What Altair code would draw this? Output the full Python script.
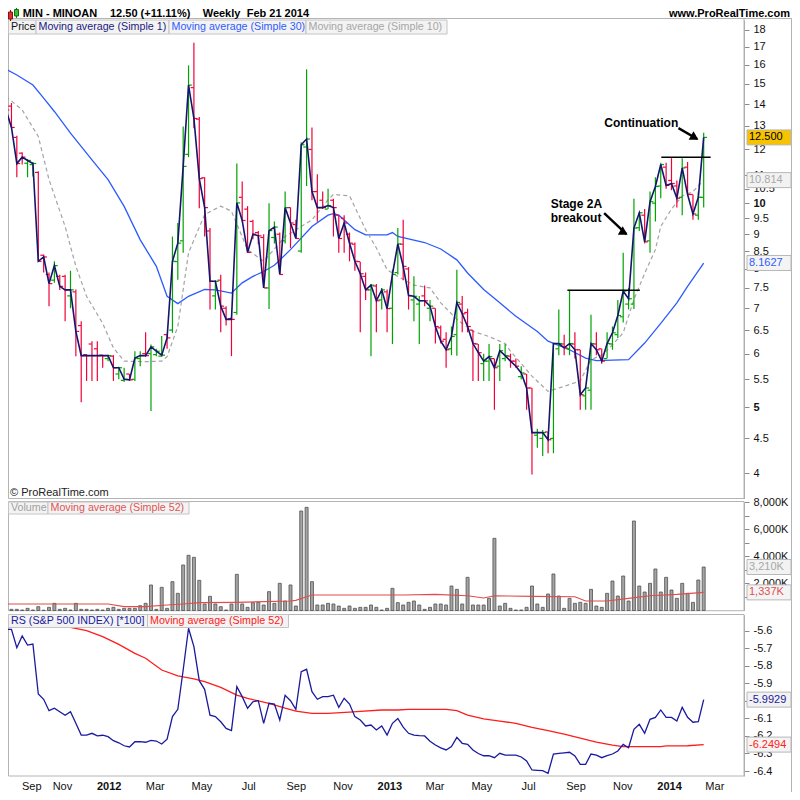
import altair as alt
import pandas as pd

# ---------------- data ----------------
FIRST_BAR = "2011-08-26"          # first weekly bar (Friday)
N_BARS = 131                      # last bar = 2014-02-21

open_ = [14.2, 13.9, 12.5, 11.85, 11.45, 11.4, 11.1, 8.38, 7.85, 7.7,
         7.8, 7.8, 7.3, 7.4, 6.6, 5.98, 6.2, 6.1, 5.97, 5.9,
         5.95, 5.6, 5.48, 5.6, 5.5, 5.9, 6.0, 6.0, 5.98, 5.95,
         6.4, 6.5, 8.2, 8.8, 11.8, 14.8, 13.3, 10.9, 9.1, 7.3,
         7.7, 7.0, 6.76, 6.9, 10.2, 9.8, 9.4, 9.05, 8.9, 7.5,
         8.9, 9.0, 8.8, 9.85, 9.3, 8.5, 12.1, 12.0, 10.4, 10.1,
         9.8, 10.1, 9.6, 9.5, 9.0, 8.7, 8.2, 7.8, 7.45, 7.55,
         7.2, 7.4, 7.0, 7.9, 8.7, 8.0, 7.2, 7.1, 7.3, 7.0,
         7.0, 6.55, 6.3, 6.1, 6.4, 7.1, 6.9, 6.5, 6.2, 5.8,
         5.85, 5.9, 5.75, 5.9, 5.95, 5.85, 5.55, 5.6, 5.34, 4.55,
         4.5, 4.6, 4.5, 6.1, 6.2, 6.1, 6.2, 6.08, 5.2, 5.3,
         6.2, 6.1, 5.9, 6.2, 6.4, 6.8, 7.1, 7.1, 9.2, 9.6,
         8.8, 10.0, 10.6, 11.3, 10.8, 10.6, 10.2, 11.3, 10.3, 9.6,
         10.2]
high = [14.3, 14.05, 12.57, 11.89, 11.62, 11.5, 11.14, 8.4, 7.9, 8.21,
        7.84, 7.84, 7.95, 7.46, 6.70, 5.99, 6.26, 6.26, 5.98, 5.98,
        5.97, 5.74, 5.72, 5.6, 6.05, 6.05, 6.45, 6.19, 6.1, 6.37,
        6.42, 8.93, 9.35, 12.97, 15.96, 17.24, 13.4, 10.92, 9.19, 7.7,
        7.84, 7.05, 6.8, 11.44, 10.76, 9.90, 9.45, 9.1, 9.0, 10.0,
        9.4, 9.05, 10.4, 9.86, 9.45, 12.3, 15.75, 12.93, 11.03, 10.4,
        10.5, 10.15, 9.6, 9.6, 9.05, 8.75, 8.2, 7.9, 7.6, 7.6,
        7.5, 7.46, 7.98, 9.19, 9.45, 8.05, 7.8, 7.3, 7.56, 7.2,
        7.0, 6.6, 6.45, 6.58, 7.98, 7.3, 6.99, 6.5, 6.2, 6.0,
        6.2, 5.9, 6.2, 6.2, 6.0, 5.9, 5.75, 5.6, 5.34, 4.65,
        4.63, 4.6, 6.21, 6.97, 6.4, 7.45, 6.45, 6.08, 5.34, 6.85,
        6.45, 6.1, 6.45, 6.58, 7.2, 8.45, 7.5, 10.15, 9.7, 9.8,
        10.4, 10.92, 11.47, 11.47, 11.65, 10.8, 11.65, 11.5, 10.3, 10.4,
        12.7]
low = [13.4, 12.9, 10.92, 11.4, 10.92, 10.95, 8.21, 7.9, 7.05, 7.63,
       7.45, 6.70, 7.0, 5.95, 5.09, 5.47, 5.47, 5.47, 5.72, 5.85,
       5.47, 5.5, 5.45, 5.47, 5.47, 5.75, 5.94, 4.94, 5.95, 5.94,
       6.1, 6.44, 7.71, 8.45, 11.69, 12.9, 9.83, 8.93, 6.97, 6.97,
       6.45, 6.6, 5.95, 6.85, 9.4, 8.45, 8.85, 8.7, 7.5, 6.98,
       8.72, 7.85, 8.72, 8.59, 8.87, 8.45, 10.6, 10.1, 9.39, 9.8,
       9.8, 8.93, 8.45, 8.45, 8.21, 7.95, 6.45, 7.2, 5.95, 6.45,
       6.97, 6.45, 6.2, 7.85, 7.7, 6.97, 6.7, 6.2, 7.05, 6.7,
       6.21, 6.21, 5.72, 5.97, 5.96, 6.45, 6.45, 5.47, 5.47, 5.47,
       5.47, 4.96, 5.47, 5.85, 5.72, 5.72, 5.5, 4.96, 3.98, 4.36,
       4.24, 4.28, 4.28, 5.97, 5.97, 5.97, 5.9, 4.96, 4.96, 4.96,
       5.97, 5.8, 5.9, 6.08, 6.33, 6.67, 6.97, 6.98, 9.1, 8.72,
       8.45, 9.4, 10.17, 10.5, 10.45, 9.85, 9.6, 10.3, 9.45, 9.45,
       9.85]
close = [13.72, 12.93, 11.44, 11.69, 11.56, 11.44, 8.21, 8.33, 7.61, 8.09,
         7.54, 7.45, 7.45, 6.47, 5.96, 5.96, 5.96, 5.96, 5.96, 5.96,
         5.72, 5.72, 5.50, 5.49, 5.91, 5.96, 5.96, 6.14, 6.05, 5.97,
         6.33, 8.21, 8.73, 11.33, 14.93, 13.33, 10.87, 9.85, 7.67, 7.67,
         7.05, 6.74, 6.74, 10.01, 9.43, 8.46, 9.00, 8.95, 7.50, 9.11,
         9.22, 7.85, 9.85, 9.35, 8.87, 12.19, 12.43, 10.40, 9.85, 9.85,
         9.92, 9.85, 8.87, 9.35, 8.73, 8.21, 7.87, 7.45, 7.57, 7.18,
         7.45, 6.99, 7.85, 8.71, 8.07, 7.31, 7.29, 7.18, 7.18, 7.05,
         6.58, 6.26, 6.08, 6.36, 7.14, 6.87, 6.58, 6.21, 6.02, 5.85,
         5.94, 5.72, 6.06, 5.96, 5.85, 5.75, 5.62, 5.34, 4.59, 4.59,
         4.59, 4.48, 6.21, 6.21, 6.12, 6.21, 6.08, 5.22, 5.34, 6.21,
         6.08, 5.85, 6.21, 6.44, 6.83, 7.42, 7.23, 9.19, 9.68, 8.77,
         10.05, 10.58, 11.40, 10.62, 10.69, 10.17, 11.27, 10.30, 9.64, 10.20,
         12.50]
volume_k = [100, 86, 86, 37, 160, 37, 283, 20, 234, 529,
            86, 160, 37, 529, 86, 86, 37, 86, 37, 160,
            234, 86, 160, 160, 160, 357, 529, 1882, 86, 1710,
            160, 2128, 1267, 3358, 4072, 3924, 2226, 480, 1046, 480,
            283, 37, 480, 2669, 480, 234, 578, 603, 406, 1390,
            529, 2005, 701, 1882, 332, 7343, 7614, 2128, 406, 406,
            529, 480, 332, 160, 332, 160, 234, 234, 406, 234,
            37, 160, 1636, 578, 406, 603, 701, 406, 86, 234,
            480, 480, 406, 1808, 1562, 480, 2448, 406, 406, 406,
            898, 5326, 332, 529, 160, 37, 37, 234, 1808, 480,
            234, 1218, 2694, 1070, 160, 898, 529, 603, 529, 1562,
            332, 234, 1267, 2177, 1070, 2546, 701, 6605, 1808, 1365,
            2005, 3063, 1365, 2448, 1513, 898, 2005, 1267, 603, 2251,
            3210]
rs = [-5.592, -5.592, -5.697, -5.630, -5.682, -5.676, -5.961, -5.991, -6.056, -6.042,
      -6.062, -6.082, -6.062, -6.128, -6.195, -6.195, -6.185, -6.200, -6.196, -6.204,
      -6.227, -6.239, -6.256, -6.263, -6.233, -6.233, -6.236, -6.225, -6.229, -6.246,
      -6.219, -6.090, -6.048, -5.824, -5.586, -5.691, -5.885, -5.934, -6.082, -6.090,
      -6.119, -6.157, -6.170, -5.919, -5.976, -6.042, -6.005, -5.999, -6.128, -6.014,
      -6.018, -6.109, -5.968, -5.999, -6.048, -5.834, -5.820, -5.948, -5.991, -5.976,
      -5.976, -5.968, -6.037, -5.985, -6.018, -6.090, -6.109, -6.143, -6.138, -6.166,
      -6.143, -6.195, -6.128, -6.100, -6.150, -6.185, -6.195, -6.198, -6.200, -6.230,
      -6.252, -6.268, -6.280, -6.261, -6.208, -6.242, -6.248, -6.280, -6.300, -6.313,
      -6.313, -6.324, -6.299, -6.309, -6.309, -6.309, -6.320, -6.343, -6.394, -6.396,
      -6.398, -6.413, -6.303, -6.299, -6.296, -6.293, -6.314, -6.362, -6.362, -6.303,
      -6.309, -6.324, -6.312, -6.303, -6.286, -6.248, -6.267, -6.162, -6.134, -6.185,
      -6.105, -6.094, -6.052, -6.094, -6.094, -6.115, -6.037, -6.094, -6.122, -6.119,
      -5.993]

# moving averages: (bar index, value)
ma30_week = [0, 2, 5, 7, 9, 12, 16, 19, 22, 25, 28, 30, 32, 34, 37, 39, 42, 44, 46, 48,
             50, 53, 57, 60, 61, 62, 65, 67, 71, 72, 73, 78, 81, 84, 86, 89, 92, 95, 99, 101,
             105, 108, 110, 116, 119, 122, 125, 127, 130]
ma30_val = [15.75, 15.45, 14.93, 14.28, 13.65, 12.68, 11.58, 10.83, 9.89, 8.83,
            8.07, 7.29, 7.11, 7.29, 7.46, 7.45, 7.37, 7.63, 7.80, 7.93,
            8.10, 8.54, 9.24, 9.60, 9.65, 9.60, 9.14, 8.98, 8.98, 9.05,
            8.93, 8.75, 8.56, 8.25, 7.89, 7.46, 7.13, 6.81, 6.47, 6.26,
            6.08, 5.91, 5.86, 5.88, 6.22, 6.65, 7.13, 7.54, 8.16]
ma10_week = [0, 3, 6, 8, 11, 13, 15, 18, 20, 22, 26, 29, 30, 32, 34, 37, 40, 42, 45, 48,
             52, 57, 60, 61, 64, 67, 69, 71, 73, 76, 79, 81, 84, 87, 90, 93, 94, 98, 101, 104,
             107, 109, 111, 113, 115, 117, 119, 121, 122, 124, 126, 128, 130]
ma10_val = [14.36, 13.72, 12.54, 10.83, 9.24, 8.07, 7.29, 6.65, 6.12, 5.85,
            5.84, 5.85, 5.94, 6.58, 8.45, 9.62, 9.90, 9.73, 8.54, 8.21,
            8.93, 9.45, 10.12, 10.30, 10.25, 9.14, 8.59, 7.98, 7.80, 7.57,
            7.50, 7.13, 6.74, 6.47, 6.36, 6.21, 6.05, 5.56, 5.28, 5.37,
            5.47, 5.88, 5.97, 6.18, 6.44, 7.21, 7.88, 8.54, 9.24, 9.80,
            10.25, 10.40, 10.81]
vma_week = [0, 19, 22, 26, 30, 33, 36, 43, 53, 54, 56, 57, 74, 80, 86, 89, 91, 98, 106, 108,
            112, 116, 120, 125, 130]
vma_val = [480, 480, 283, 283, 406, 480, 578, 603, 701, 750, 1020, 1143, 1143, 1190, 1090,
           920, 1090, 1046, 1020, 701, 701, 898, 1090, 1190, 1337]
rsma_week = [0, 6, 12, 15, 18, 21, 24, 26, 29, 32, 35, 37, 40, 43, 45, 49, 52, 54, 57, 60,
             64, 66, 70, 73, 75, 82, 84, 86, 89, 92, 95, 98, 101, 104, 107, 110, 113, 115, 122, 123,
             127, 130]
rsma_val = [-5.53, -5.555, -5.581, -5.600, -5.634, -5.678, -5.729, -5.757, -5.824, -5.858,
            -5.875, -5.891, -5.923, -5.967, -5.986, -6.014, -6.042, -6.058, -6.071, -6.071,
            -6.064, -6.060, -6.052, -6.052, -6.048, -6.048, -6.056, -6.081, -6.103, -6.115,
            -6.128, -6.151, -6.170, -6.189, -6.213, -6.235, -6.252, -6.261, -6.261, -6.257,
            -6.256, -6.249]

# drawn annotations (bar index / price)
res_from = [104.6, 122.1]
res_to = [118.1, 131.3]
res_price = [7.44, 11.69]
arrow_from_week = [111.45, 125.3]
arrow_from_price = [9.67, 12.90]
arrow_to_week = [115.6, 128.8]
arrow_to_price = [9.00, 12.43]

price_ticks = [4, 4.5, 5, 5.5, 6, 6.5, 7, 7.5, 8, 8.5, 9, 9.5, 10, 10.5, 11, 12, 13, 14, 15, 16, 17, 18]
vol_ticks = [1000, 2000, 3000, 4000, 5000, 6000, 7000, 8000]
rs_ticks = [-6.4, -6.3, -6.2, -6.1, -6.0, -5.9, -5.8, -5.7, -5.6]
# where the month labels sit (the first one is pushed in from the left edge, as in the reference)
month_ticks = ["2011-09-22", "2011-11-01", "2012-03-01", "2012-05-01", "2012-07-01",
               "2012-09-01", "2012-11-01", "2013-03-01", "2013-05-01", "2013-07-01",
               "2013-09-01", "2013-11-01", "2014-03-01"]
year_ticks = ["2012-01-01", "2013-01-01", "2014-01-01"]

# ---------------- helpers ----------------
DAY = 86400000
WEEK = 7 * DAY
T0 = int(pd.Timestamp(FIRST_BAR, tz="UTC").value // 10**6)


def wk(i):
    return T0 + i * WEEK


def ms(s):
    return int(pd.Timestamp(s, tz="UTC").value // 10**6)


PX_PER_DAY = 5.44 / 7.0
D0 = int(T0 + (7.0 / PX_PER_DAY) * DAY)
D1 = int(D0 + (736.0 / PX_PER_DAY) * DAY)
XS = alt.Scale(type="utc", domain=[D0, D1])
FONT = "Liberation Sans"
UP, DOWN = "#00a400", "#f2003a"
LEG = 10.7

bars = pd.DataFrame({"t": [wk(i) for i in range(N_BARS)], "open": open_, "high": high,
                     "low": low, "close": close, "vol": volume_k, "rs": rs})
bars["dir"] = ["up" if c >= o else "down" for o, c in zip(open_, close)]


def series(weeks, vals):
    return pd.DataFrame({"t": [wk(w) for w in weeks], "v": vals})


ONE = alt.Data(values=[{"a": 1}])

PS = alt.Scale(type="log", domain=[3.67, 18.62], range=[490.5, 12], nice=False)
VS = alt.Scale(domain=[0, 8000], range=[602.5, 494.1], nice=False)
RSS = alt.Scale(domain=[-6.4284, -5.5088], range=[768, 606.7], nice=False, zero=False)
DIRS = alt.Scale(domain=["up", "down"], range=[UP, DOWN])
XN = alt.X("t:T", scale=XS, axis=None)

axis_common = dict(orient="right", tickSize=5, tickColor="#8a8a8a", domainColor="#a8a8a8",
                   labelFontSize=11, labelColor="#111111", labelPadding=4, grid=False,
                   labelOverlap=False, labelBound=False, title=None, labelFont=FONT)

price_axis = alt.Axis(values=price_ticks, labelExpr="'' + datum.value",
                      labelFontWeight={"condition": {"test": "datum.value == 10 || datum.value == 5",
                                                     "value": "bold"}, "value": "normal"},
                      **axis_common)
vol_axis = alt.Axis(values=vol_ticks,
                    labelExpr="datum.value % 2000 == 0 ? format(datum.value, ',') + 'K' : ''",
                    **axis_common)
rs_axis = alt.Axis(values=rs_ticks, labelExpr="'' + datum.value", **axis_common)


def rect(x1, x2, y1, y2, fill="#f3f3f3", stroke="#c4c4c4"):
    return alt.Chart(ONE).mark_rect(fill=fill, stroke=stroke, strokeWidth=1).encode(
        x=alt.value(x1), x2=alt.value(x2), y=alt.value(y1), y2=alt.value(y2))


def hline(x1, x2, y, color="#b4b4b4"):
    return alt.Chart(ONE).mark_rule(color=color, strokeWidth=1).encode(
        x=alt.value(x1), x2=alt.value(x2), y=alt.value(y))


def vline(x, y1, y2, color="#b4b4b4", width=1):
    return alt.Chart(ONE).mark_rule(color=color, strokeWidth=width).encode(
        x=alt.value(x), y=alt.value(y1), y2=alt.value(y2))


def label(x, y, text, color="#111111", size=11, weight="normal", align="left"):
    return alt.Chart(ONE).mark_text(text=text, color=color, fontSize=size, fontWeight=weight,
                                    align=align, baseline="middle", font=FONT).encode(
        x=alt.value(x), y=alt.value(y))


BOX = "M-1,-0.341L1,-0.341L1,0.341L-1,0.341Z"


def tag(value, text, scale, fill, color):
    d = pd.DataFrame({"v": [value], "txt": [text]})
    box = alt.Chart(d).mark_point(shape=BOX, size=1936, filled=True, fill=fill,
                                  stroke="#b8b8b8", strokeWidth=1, opacity=1).encode(
        x=alt.value(761), y=alt.Y("v:Q", scale=scale, axis=None))
    txt = alt.Chart(d).mark_text(align="left", baseline="middle", fontSize=11, color=color,
                                 font=FONT).encode(
        x=alt.value(741), y=alt.Y("v:Q", scale=scale, axis=None), text="txt:N")
    return [box, txt]


layers = []

# frames
layers += [rect(0.5, 736, 10.5, 490.5, fill="#ffffff", stroke="#b4b4b4"),
           rect(0.5, 736, 493.5, 602.7, fill="#ffffff", stroke="#b4b4b4"),
           rect(0.5, 736, 606.5, 768, fill="#ffffff", stroke="#b4b4b4"),
           hline(0, 784, 10.5), vline(783.5, 10.5, 784)]

# ---- price panel ----
layers.append(alt.Chart(series(ma30_week, ma30_val)).mark_line(color="#2b5bff", strokeWidth=1.3).encode(
    x=XN, y=alt.Y("v:Q", scale=PS, axis=price_axis)))
layers.append(alt.Chart(series(ma10_week, ma10_val)).mark_line(
    color="#a4a4a4", strokeWidth=1.2, strokeDash=[4, 3]).encode(
    x=XN, y=alt.Y("v:Q", scale=PS, axis=None)))
layers.append(alt.Chart(bars).mark_rule(strokeWidth=1.2).encode(
    x=XN, y=alt.Y("low:Q", scale=PS, axis=None), y2="high:Q",
    color=alt.Color("dir:N", scale=DIRS, legend=None)))
layers.append(alt.Chart(bars).mark_tick(orient="horizontal", size=3, thickness=1.2, xOffset=-1.8,
                                        opacity=1).encode(
    x=XN, y=alt.Y("open:Q", scale=PS, axis=None), color=alt.Color("dir:N", scale=DIRS, legend=None)))
layers.append(alt.Chart(bars).mark_tick(orient="horizontal", size=3, thickness=1.2, xOffset=1.8,
                                        opacity=1).encode(
    x=XN, y=alt.Y("close:Q", scale=PS, axis=None), color=alt.Color("dir:N", scale=DIRS, legend=None)))
layers.append(alt.Chart(bars).mark_line(color="#15156e", strokeWidth=1.6).encode(
    x=XN, y=alt.Y("close:Q", scale=PS, axis=None)))

res_df = pd.DataFrame({"t1": [wk(w) for w in res_from], "t2": [wk(w) for w in res_to], "p": res_price})
layers.append(alt.Chart(res_df).mark_rule(color="#000000", strokeWidth=1.5).encode(
    x=alt.X("t1:T", scale=XS, axis=None), x2="t2:T", y=alt.Y("p:Q", scale=PS, axis=None)))

arr_df = pd.DataFrame({"t1": [wk(w) for w in arrow_from_week], "p1": arrow_from_price,
                       "t2": [wk(w) for w in arrow_to_week], "p2": arrow_to_price})
layers.append(alt.Chart(arr_df).mark_rule(color="#000000", strokeWidth=2.4).encode(
    x=alt.X("t1:T", scale=XS, axis=None), x2="t2:T",
    y=alt.Y("p1:Q", scale=PS, axis=None), y2="p2:Q"))
layers.append(alt.Chart(arr_df).mark_point(shape="triangle-right", angle=30, size=95, filled=True,
                                           fill="#000000", strokeWidth=0, opacity=1,
                                           xOffset=-2.5, yOffset=-1.5).encode(
    x=alt.X("t2:T", scale=XS, axis=None), y=alt.Y("p2:Q", scale=PS, axis=None)))

layers += [label(542.7, 196, "Stage 2A", "#000000", 12, "bold"),
           label(542.7, 209.7, "breakout", "#000000", 12, "bold"),
           label(596.3, 115.3, "Continuation", "#000000", 12, "bold"),
           label(2, 485, "\u00a9 ProRealTime.com", "#222222", 11)]

# price legend
layers += [rect(0.5, 28, 12, 26), rect(28, 161, 12, 26), rect(161, 298, 12, 26),
           rect(298, 439, 12, 26),
           label(3, 19, "Price", "#111111", LEG),
           label(30.5, 19, "Moving average (Simple 1)", "#1a1a80", LEG),
           label(163.5, 19, "Moving average (Simple 30)", "#2f5cff", LEG),
           label(300.5, 19, "Moving average (Simple 10)", "#a6a6a6", LEG)]

layers += tag(12.5, "12.500", PS, "#f7c300", "#000000")
layers += tag(10.814, "10.814", PS, "#f2f2f2", "#a8a8a8")
layers += tag(8.1627, "8.1627", PS, "#f4f4f4", "#2f5cff")

# ---- volume panel ----
layers.append(alt.Chart(bars).mark_bar(size=3, fill="#a4a4a4", stroke="#505050", strokeWidth=0.8).encode(
    x=XN, y=alt.Y("vol:Q", scale=VS, axis=vol_axis)))
layers.append(alt.Chart(series(vma_week, vma_val)).mark_line(color="#e24c4c", strokeWidth=1.1).encode(
    x=XN, y=alt.Y("v:Q", scale=VS, axis=None)))
layers += [rect(0.5, 40, 494, 506), rect(40, 181, 494, 506),
           label(3, 500, "Volume", "#a0a0a0", LEG),
           label(42.5, 500, "Moving average (Simple 52)", "#e05555", LEG)]
layers += tag(3210, "3,210K", VS, "#f2f2f2", "#a8a8a8")
layers += tag(1337, "1,337K", VS, "#f4f4f4", "#e05050")

# ---- RS panel ----
layers.append(alt.Chart(series(rsma_week, rsma_val)).mark_line(color="#ff1c1c", strokeWidth=1.3).encode(
    x=XN, y=alt.Y("v:Q", scale=RSS, axis=None)))
layers.append(alt.Chart(bars).mark_line(color="#1a1a9e", strokeWidth=1.3).encode(
    x=XN, y=alt.Y("rs:Q", scale=RSS, axis=rs_axis)))
layers += [rect(0.5, 139.5, 606.5, 619.5), rect(139.5, 280.5, 606.5, 619.5),
           label(3, 613, "RS (S&P 500 INDEX) [*100]", "#1a1a9e", LEG),
           label(142, 613, "Moving average (Simple 52)", "#ff2020", LEG)]
layers += tag(-5.9929, "-5.9929", RSS, "#f2f2f2", "#1a1a9e")
layers += tag(-6.2494, "-6.2494", RSS, "#f4f4f4", "#ff2020")

# ---- time axis labels (months / bold years) ----
mdf = pd.DataFrame({"t": [ms(m) for m in month_ticks],
                    "lab": [pd.Timestamp(m).strftime("%b") for m in month_ticks]})
ydf = pd.DataFrame({"t": [ms(y) for y in year_ticks],
                    "lab": [pd.Timestamp(y).strftime("%Y") for y in year_ticks]})
layers.append(alt.Chart(mdf).mark_text(fontSize=11, color="#111111", baseline="middle", dx=5,
                                       font=FONT).encode(
    x=alt.X("t:T", scale=XS, axis=None), y=alt.value(779), text="lab:N"))
layers.append(alt.Chart(ydf).mark_text(fontSize=11, color="#111111", baseline="middle", dx=5,
                                       fontWeight="bold", font=FONT).encode(
    x=alt.X("t:T", scale=XS, axis=None), y=alt.value(779), text="lab:N"))

# ---- title bar ----
layers += [rect(0.5, 4.5, 4, 11, fill="#e23030", stroke="#8a1010"),
           vline(2.5, 2, 4, "#8a1010"), vline(2.5, 11, 13, "#8a1010"),
           rect(6.5, 10.5, 1.5, 8, fill="#33c033", stroke="#107010"),
           vline(8.5, 0, 1.5, "#107010"), vline(8.5, 8, 10, "#107010"),
           label(14.7, 5.5, "MIN - MINOAN", "#000000", 11, "bold"),
           label(102, 5.5, "12.50 (+11.11%)", "#000000", 11, "bold"),
           label(194.7, 5.5, "Weekly", "#000000", 11, "bold"),
           label(238.7, 5.5, "Feb 21 2014", "#000000", 11, "bold"),
           label(782, 5.5, "www.ProRealTime.com", "#000000", 11, "bold", "right")]

chart = alt.layer(*layers).resolve_scale(y="independent").properties(
    width=736, height=768,
    padding={"left": 0, "top": 0, "right": 48, "bottom": 16},
    autosize=alt.AutoSizeParams(type="none"),
).configure(font=FONT).configure_view(strokeWidth=0)

chart.save("out.html", embed_options={"renderer": "svg", "actions": False})
